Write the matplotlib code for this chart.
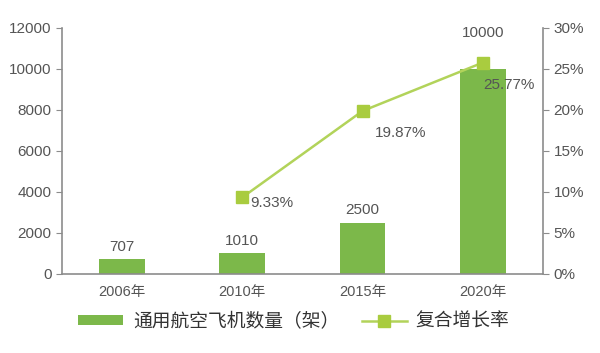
import matplotlib.pyplot as plt

plt.rcParams['font.family'] = ['Liberation Sans', 'Noto Sans CJK SC']

years = ['2006年', '2010年', '2015年', '2020年']
planes = [707, 1010, 2500, 10000]
rate_idx = [1, 2, 3]
rates = [9.33, 19.87, 25.77]
rate_labels = ['9.33%', '19.87%', '25.77%']

bar_color = '#7cb84a'
line_color = '#b2d35a'
txt_color = '#555555'
axis_color = '#8c8c8c'

fig = plt.figure(figsize=(6, 3.53), dpi=100)
ax = fig.add_axes([0.103, 0.224, 0.802, 0.697])
ax2 = ax.twinx()

x = list(range(len(years)))
bars = ax.bar(x, planes, width=0.38, color=bar_color, label='通用航空飞机数量（架）', zorder=2)
ax.set_xlim(-0.5, 3.5)
ax.set_ylim(0, 12000)
ax.set_yticks(range(0, 12001, 2000))
ax.set_xticks(x)
ax.set_xticklabels(years)

for xi, v in zip(x, planes):
    off = 21 if v == 10000 else 4
    ax.annotate(str(v), (xi, v), xytext=(0, off), textcoords='offset points',
                ha='center', va='bottom', fontsize=11, color=txt_color)

ax2.plot(rate_idx, rates, color=line_color, lw=1.8, marker='s', ms=8,
         mfc='#a9cc3f', mec='#a9cc3f', label='复合增长率', zorder=3)
ax2.set_ylim(0, 30)
ax2.set_yticks(range(0, 31, 5))
ax2.set_yticklabels([f'{v}%' for v in range(0, 31, 5)])

offsets = [(6, -4), (9, -16), (0, -16)]
for xi, v, lab, off in zip(rate_idx, rates, rate_labels, offsets):
    ax2.annotate(lab, (xi, v), xytext=off, textcoords='offset points',
                 ha='left', va='center', fontsize=11, color=txt_color)

for a in (ax, ax2):
    a.spines['top'].set_visible(False)
    for s in ('left', 'right', 'bottom'):
        a.spines[s].set_color(axis_color)
        a.spines[s].set_linewidth(1.2)
    a.tick_params(colors=axis_color, labelcolor=txt_color, labelsize=11, length=4)
ax.spines['right'].set_visible(False)
ax2.spines['left'].set_visible(False)
ax2.spines['bottom'].set_visible(False)
ax.tick_params(axis='x', length=0, pad=8, labelsize=10.5)

h1, l1 = ax.get_legend_handles_labels()
h2, l2 = ax2.get_legend_handles_labels()
fig.legend(h1 + h2, l1 + l2, loc='center', bbox_to_anchor=(0.49, 0.088), ncol=2,
           frameon=False, fontsize=13.5, labelcolor='#333333', handlelength=2.4,
           handleheight=0.45, handletextpad=0.5, columnspacing=1.2)

fig.savefig('out.png', dpi=100)
